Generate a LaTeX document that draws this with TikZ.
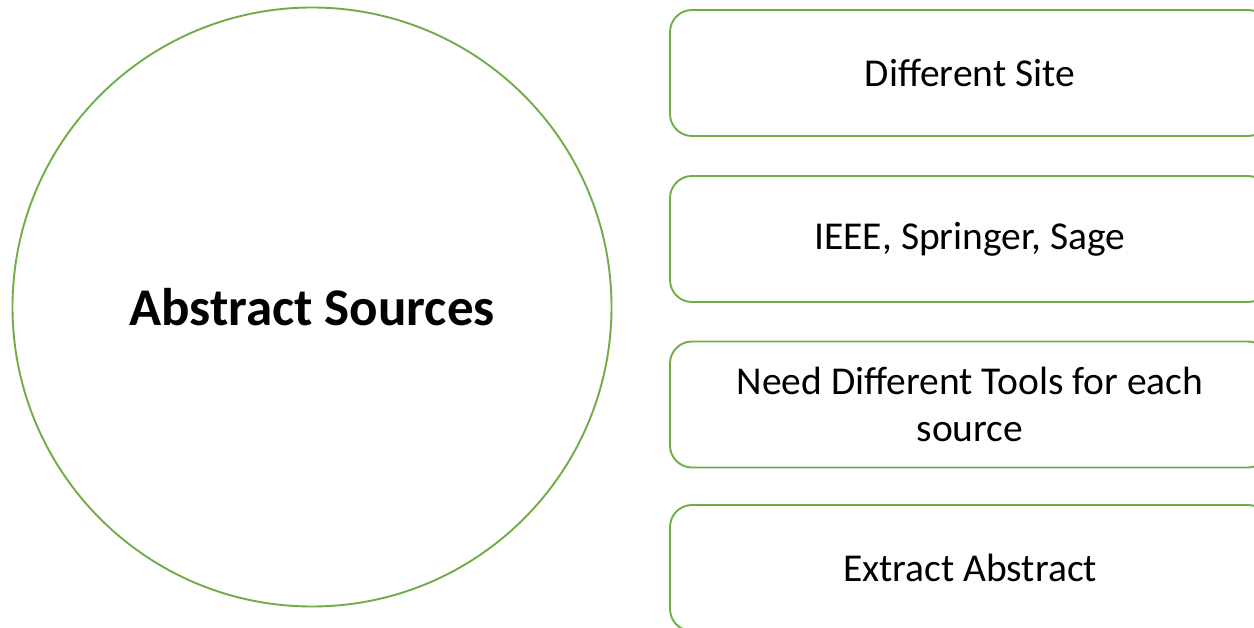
\documentclass[tikz,border=0pt]{standalone}
\usepackage{fontspec}
\setmainfont{Carlito}
\definecolor{grn}{HTML}{70AD47}
\begin{document}
\begin{tikzpicture}[x=1pt,y=-1pt,
  box/.style={draw=grn,line width=1.9pt,rounded corners=22pt,minimum width=600pt,minimum height=126pt,inner sep=0pt,align=center,font=\fontsize{39.5}{47}\selectfont},
  ring/.style={draw=grn,line width=1.9pt,circle,minimum size=599pt,inner sep=0pt,font=\bfseries\fontsize{53}{60}\selectfont}]
\useasboundingbox (0,0) rectangle (1254,628);
\begin{scope}
\clip (0,0) rectangle (1254,628);
\node[ring] (c) at (312,307) {Abstract Sources};
\node[box] (b1) at (970,73) {Different Site};
\node[box] (b2) at (970,239) {IEEE, Springer, Sage};
\node[box] (b3) at (970,404.5) {Need Different Tools for each\\source};
\node[box] (b4) at (970,568) {Extract Abstract};
\end{scope}
\end{tikzpicture}
\end{document}
